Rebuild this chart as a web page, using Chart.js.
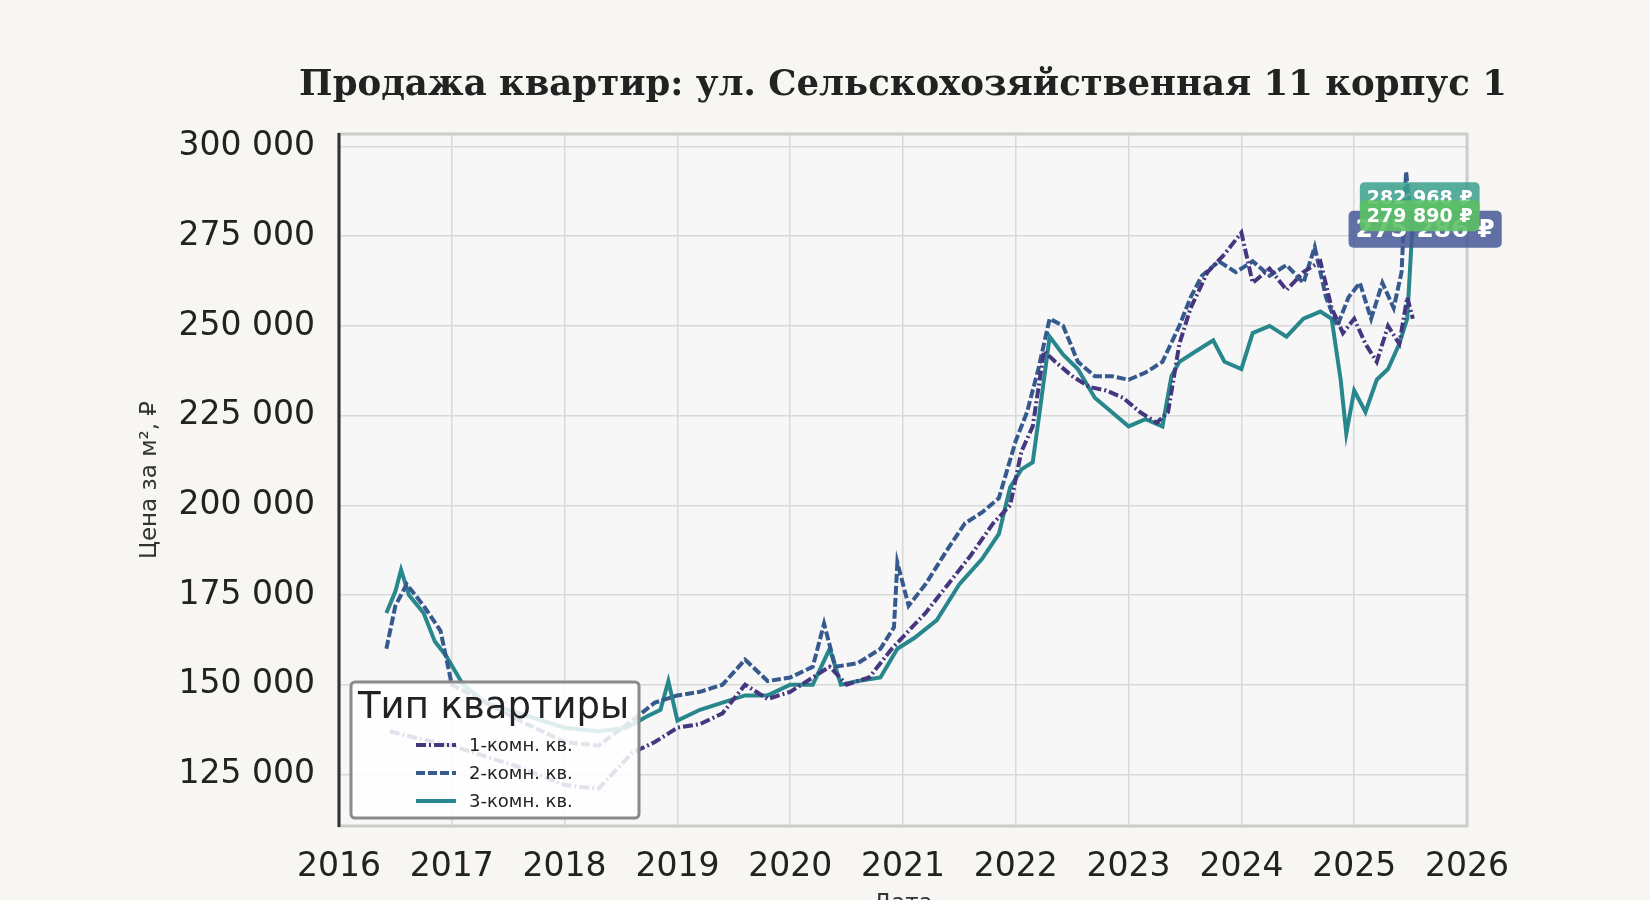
<!DOCTYPE html>
<html>
<head>
<meta charset="utf-8">
<script src="https://cdn.jsdelivr.net/npm/chart.js@4"></script>
<style>
  html, body { margin: 0; padding: 0; background: #f7f6f2; }
  #wrap { width: 1650px; height: 900px; position: relative; }
</style>
</head>
<body>
<div id="wrap"><canvas id="priceChart" width="1650" height="900"></canvas></div>
<script>
// data (year as decimal, price per m2)
const years1 = [2016.45, 2016.7, 2017.0, 2017.3, 2017.6, 2018.0, 2018.3, 2018.6, 2018.8, 2019.0, 2019.2, 2019.4, 2019.6, 2019.8, 2020.0, 2020.2, 2020.35, 2020.5, 2020.7, 2020.9, 2021.05, 2021.2, 2021.4, 2021.6, 2021.8, 2021.95, 2022.05, 2022.15, 2022.25, 2022.35, 2022.5, 2022.65, 2022.8, 2022.95, 2023.1, 2023.25, 2023.35, 2023.45, 2023.55, 2023.7, 2023.85, 2024.0, 2024.1, 2024.25, 2024.4, 2024.55, 2024.7, 2024.8, 2024.9, 2025.0, 2025.1, 2025.2, 2025.3, 2025.4, 2025.47, 2025.52];
const oneRoom = [137000, 135000, 133000, 130000, 127000, 122000, 121000, 131000, 134000, 138000, 139000, 142000, 150000, 146000, 148000, 152000, 155000, 150000, 152000, 160000, 165000, 170000, 178000, 186000, 195000, 200000, 215000, 222000, 243000, 240000, 236000, 233000, 232000, 230000, 226000, 223000, 226000, 245000, 255000, 265000, 270000, 276000, 262000, 266000, 260000, 265000, 268000, 255000, 248000, 252000, 245000, 240000, 250000, 245000, 258000, 252000];

const years2 = [2016.42, 2016.5, 2016.6, 2016.75, 2016.9, 2017.0, 2017.3, 2017.6, 2018.0, 2018.3, 2018.6, 2018.8, 2019.0, 2019.2, 2019.4, 2019.6, 2019.8, 2020.0, 2020.2, 2020.3, 2020.4, 2020.6, 2020.8, 2020.92, 2020.95, 2021.05, 2021.2, 2021.4, 2021.55, 2021.7, 2021.85, 2022.0, 2022.1, 2022.2, 2022.3, 2022.42, 2022.55, 2022.7, 2022.85, 2023.0, 2023.15, 2023.3, 2023.45, 2023.55, 2023.65, 2023.8, 2023.95, 2024.1, 2024.25, 2024.4, 2024.55, 2024.65, 2024.75, 2024.85, 2024.95, 2025.05, 2025.15, 2025.25, 2025.35, 2025.42, 2025.46, 2025.52];
const twoRoom = [160000, 172000, 178000, 172000, 165000, 150000, 145000, 140000, 134000, 133000, 140000, 145000, 147000, 148000, 150000, 157000, 151000, 152000, 155000, 167000, 155000, 156000, 160000, 166000, 184000, 172000, 178000, 188000, 195000, 198000, 202000, 218000, 226000, 238000, 252000, 250000, 240000, 236000, 236000, 235000, 237000, 240000, 250000, 258000, 264000, 268000, 265000, 268000, 264000, 267000, 262000, 272000, 258000, 250000, 258000, 262000, 252000, 262000, 255000, 265000, 293000, 275000];

const years3 = [2016.42, 2016.5, 2016.55, 2016.62, 2016.75, 2016.85, 2016.95, 2017.1, 2017.3, 2017.6, 2018.0, 2018.3, 2018.55, 2018.72, 2018.85, 2018.92, 2019.0, 2019.2, 2019.4, 2019.6, 2019.8, 2020.0, 2020.2, 2020.35, 2020.45, 2020.6, 2020.8, 2020.95, 2021.1, 2021.3, 2021.5, 2021.7, 2021.85, 2021.95, 2022.05, 2022.15, 2022.22, 2022.3, 2022.42, 2022.55, 2022.7, 2022.85, 2023.0, 2023.15, 2023.3, 2023.38, 2023.45, 2023.6, 2023.75, 2023.85, 2024.0, 2024.1, 2024.25, 2024.4, 2024.55, 2024.7, 2024.8, 2024.88, 2024.93, 2025.0, 2025.1, 2025.2, 2025.3, 2025.4, 2025.47, 2025.52];
const threeRoom = [170000, 176000, 182000, 175000, 170000, 162000, 158000, 150000, 145000, 142000, 138000, 137000, 138000, 141000, 143000, 151000, 140000, 143000, 145000, 147000, 147000, 150000, 150000, 160000, 150000, 151000, 152000, 160000, 163000, 168000, 178000, 185000, 192000, 205000, 210000, 212000, 228000, 247000, 242000, 238000, 230000, 226000, 222000, 224000, 222000, 236000, 240000, 243000, 246000, 240000, 238000, 248000, 250000, 247000, 252000, 254000, 252000, 235000, 220000, 232000, 226000, 235000, 238000, 245000, 252000, 280000];

const seriesNames = ["1-комн. кв.", "2-комн. кв.", "3-комн. кв."];
const lastLabels = [282968, 279890, 275286];
const lastLabelTexts = ["282 968 ₽", "279 890 ₽", "275 286 ₽"];
const yearTicks = [2016, 2017, 2018, 2019, 2020, 2021, 2022, 2023, 2024, 2025, 2026];
const priceTicks = [125000, 150000, 175000, 200000, 225000, 250000, 275000, 300000];

const colors = ["#46357f", "#36598e", "#27878c"];
const dashes = [[10, 3, 2, 3], [9, 3], []];

function pairs(xs, ys) {
    return xs.map((x, i) => ({ x: x, y: ys[i] }));
}

const fmt = v => String(v).replace(/\B(?=(\d{3})+(?!\d))/g, " ");

const decor = {
    id: "decor",
    beforeDraw(chart) {
        const c = chart.ctx, a = chart.chartArea;
        c.save();
        c.fillStyle = "#f7f7f7";
        c.fillRect(a.left, a.top, a.right - a.left, a.bottom - a.top);
        c.restore();
    },
    afterDraw(chart) {
        const c = chart.ctx, a = chart.chartArea;
        const xs = chart.scales.x, ys = chart.scales.y;
        c.save();
        // frame
        c.strokeStyle = "#cccccc";
        c.lineWidth = 3;
        c.strokeRect(a.left, a.top, a.right - a.left, a.bottom - a.top);
        c.strokeStyle = "#333333";
        c.beginPath();
        c.moveTo(a.left, a.top - 1);
        c.lineTo(a.left, a.bottom + 1);
        c.stroke();

        // title
        c.fillStyle = "#222";
        c.font = "bold 35.5px 'DejaVu Serif'";
        c.textAlign = "center";
        c.textBaseline = "middle";
        c.fillText("Продажа квартир: ул. Сельскохозяйственная 11 корпус 1", 903, 86);

        // axis titles
        c.font = "23px 'DejaVu Sans'";
        c.fillStyle = "#333";
        c.textBaseline = "top";
        c.fillText("Дата", (a.left + a.right) / 2, 893);
        c.save();
        c.translate(150, 480);
        c.rotate(-Math.PI / 2);
        c.textBaseline = "middle";
        c.fillText("Цена за м², ₽", 0, 0);
        c.restore();

        // last value labels
        const boxCols = ["rgba(58,160,140,0.85)", "rgba(92,192,100,0.9)", "rgba(70,88,150,0.85)"];
        const boxX = [2025.05, 2025.05, 2024.95];
        const order = [0, 2, 1];
        c.textAlign = "left";
        c.textBaseline = "middle";
        order.forEach(i => {
            const x = xs.getPixelForValue(boxX[i]);
            const y = ys.getPixelForValue(lastLabels[i]) + (i === 2 ? -6 : i === 1 ? -3 : -10);
            const sz = i === 2 ? 25 : 19;
            c.font = "bold " + sz + "px 'DejaVu Sans'";
            const w = c.measureText(lastLabelTexts[i]).width + 14;
            const h = sz + 12;
            c.fillStyle = boxCols[i];
            c.beginPath();
            c.roundRect(x, y - h / 2, w, h, 5);
            c.fill();
            c.fillStyle = "#fff";
            c.fillText(lastLabelTexts[i], x + 7, y + 1);
        });

        // legend
        const lx = a.left + 12, ly = a.bottom - 144, lw = 288, lh = 136;
        c.fillStyle = "rgba(255,255,255,0.85)";
        c.strokeStyle = "#8a8a8a";
        c.lineWidth = 3;
        c.beginPath();
        c.roundRect(lx, ly, lw, lh, 4);
        c.fill();
        c.stroke();
        c.fillStyle = "#222";
        c.font = "37px 'DejaVu Sans'";
        c.textAlign = "left";
        c.fillText("Тип квартиры", lx + 7, ly + 26);
        c.font = "18px 'DejaVu Sans'";
        seriesNames.forEach((n, i) => {
            const yy = ly + 63 + i * 28;
            c.strokeStyle = colors[i];
            c.lineWidth = 4;
            c.setLineDash(dashes[i]);
            c.beginPath();
            c.moveTo(lx + 65, yy);
            c.lineTo(lx + 105, yy);
            c.stroke();
            c.setLineDash([]);
            c.fillStyle = "#222";
            c.fillText(n, lx + 118, yy + 1);
        });
        c.restore();
    }
};

new Chart(document.getElementById("priceChart").getContext("2d"), {
    type: "line",
    data: {
        datasets: [0, 1, 2].map(i => ({
            label: seriesNames[i],
            data: pairs([years1, years2, years3][i], [oneRoom, twoRoom, threeRoom][i]),
            borderColor: colors[i],
            borderWidth: 4,
            borderDash: dashes[i],
            pointRadius: 0,
            tension: 0,
            fill: false
        }))
    },
    options: {
        responsive: false,
        animation: false,
        layout: { padding: { top: 134, right: 183, left: 0, bottom: 0 } },
        plugins: { legend: { display: false }, tooltip: { enabled: false } },
        scales: {
            x: {
                type: "linear",
                min: 2016,
                max: 2026,
                afterBuildTicks: s => { s.ticks = yearTicks.map(v => ({ value: v })); },
                afterFit: s => { s.height = 74; },
                ticks: { color: "#222", font: { size: 33, family: "DejaVu Sans" }, padding: 22, callback: v => String(v) },
                grid: { color: "#d9d9d9", lineWidth: 1.5, drawTicks: false },
                border: { display: false }
            },
            y: {
                min: 110600,
                max: 303500,
                afterBuildTicks: s => { s.ticks = priceTicks.map(v => ({ value: v })); },
                afterFit: s => { s.width = 339; },
                ticks: { color: "#222", font: { size: 33, family: "DejaVu Sans" }, padding: 24, callback: v => fmt(v) },
                grid: { color: "#d9d9d9", lineWidth: 1.5, drawTicks: false },
                border: { display: false }
            }
        }
    },
    plugins: [decor]
});
</script>
</body>
</html>
